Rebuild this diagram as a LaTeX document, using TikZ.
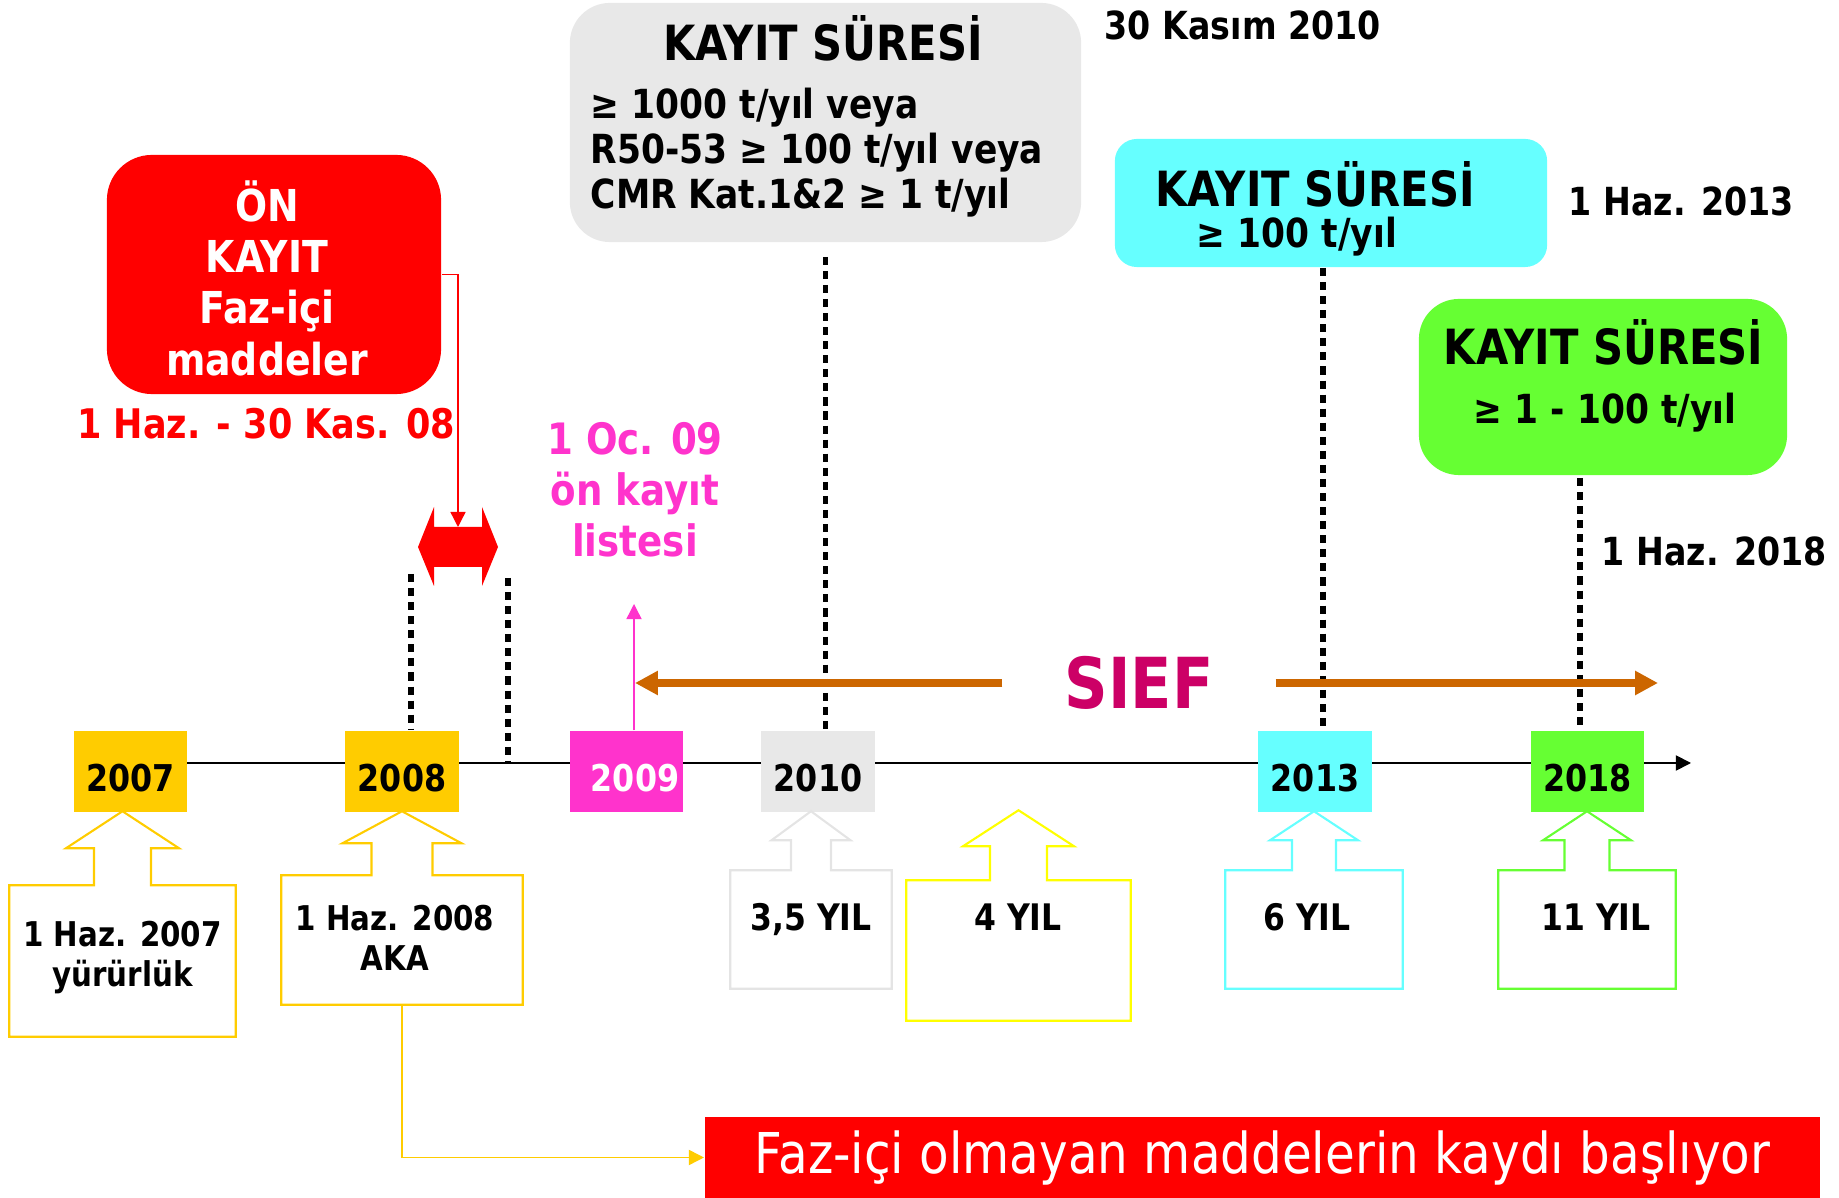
\documentclass[tikz,border=0pt]{standalone}
\usepackage{fontspec}
\setmainfont{DejaVu Sans}[FakeStretch=0.86]
\usetikzlibrary{arrows.meta,calc}
\definecolor{kGold}{HTML}{FFCC00}
\definecolor{kPink}{HTML}{FF33CC}
\definecolor{kGrey}{HTML}{E8E8E8}
\definecolor{kGreyLine}{HTML}{E4E4E4}
\definecolor{kCyan}{HTML}{66FFFF}
\definecolor{kGreen}{HTML}{66FF33}
\definecolor{kYellow}{HTML}{FFFF00}
\definecolor{kBrown}{HTML}{CC6600}
\definecolor{kSief}{HTML}{CC0066}
\newcommand\upcallout[6]{\draw [callline,draw=#2] (#1.north west) -- ($(#1.north)+(-#3,0)$) -- ++(0,-#5) -- ++(#3-#4,0) -- ++(#4,-#6) -- ++(#4,#6) -- ++(#3-#4,0) -- ++(0,#5) -- (#1.north east) |- (#1.south west) -- cycle;}
\tikzset{
  yearbox/.style={minimum width=1.13cm,minimum height=0.81cm,inner sep=0pt,text height=3.9mm,text depth=0pt,font=\fontsize{10.5}{12}\selectfont\bfseries},
  callbox/.style={inner sep=0pt},
  callline/.style={line width=0.6pt},
  calltext/.style={inner sep=0pt,font=\fontsize{9.7}{11.4}\selectfont\bfseries,align=center},
  yiltext/.style={inner sep=0pt,font=\fontsize{10.4}{12}\selectfont\bfseries},
  roundbox/.style={inner sep=0pt,draw=none},
  titletext/.style={inner sep=0pt,font=\fontsize{13.8}{15}\selectfont\bfseries},
  bodytext/.style={inner sep=0pt,font=\fontsize{11.4}{13}\selectfont\bfseries},
  datetext/.style={inner sep=0pt,font=\fontsize{11}{13}\selectfont\bfseries},
  dotline/.style={line width=1.7pt,dash pattern=on 2.3pt off 1.7pt},
  brownarr/.style={draw=kBrown,line width=2.2pt,-{Triangle[length=6.5pt,width=6.5pt]}},
  thinarr/.style={line width=0.45pt,-{Triangle[length=4.3pt,width=4.3pt]}}
}
\begin{document}
\begin{tikzpicture}[line join=miter,x=0.01cm,y=-0.01cm]
\useasboundingbox (0,0) rectangle (1839,1198);
\coordinate (axL) at (74,763);
\coordinate (axR) at (1691,763);
\draw [thinarr,line width=0.5pt] (axL) -- (axR);
% kayit sureleri
\node [roundbox,fill=kGrey,rounded corners=4mm,minimum width=5.11cm,minimum height=2.39cm] (grey) at (825.5,122.5) {};
\node [titletext,anchor=base] (greytitle) at (823,61) {KAYIT SÜRESİ};
\node [bodytext,anchor=base west] (greyl1) at (590,119) {≥ 1000 t/yıl veya};
\node [bodytext,anchor=base west] (greyl2) at (590,164) {R50-53 ≥ 100 t/yıl veya};
\node [bodytext,anchor=base west] (greyl3) at (590,209) {CMR Kat.1\&2 ≥ 1 t/yıl};
\node [roundbox,fill=kCyan,rounded corners=2.2mm,minimum width=4.32cm,minimum height=1.28cm] (cyanbox) at (1331,203) {};
\node [titletext,anchor=base] (cyantitle) at (1315,207) {KAYIT SÜRESİ};
\node [bodytext,anchor=base] (cyanl1) at (1297,248) {≥ 100 t/yıl};
\node [roundbox,fill=kGreen,rounded corners=4mm,minimum width=3.68cm,minimum height=1.76cm] (greenbox) at (1603,387) {};
\node [titletext,anchor=base] (greentitle) at (1603.5,365) {KAYIT SÜRESİ};
\node [bodytext,anchor=base] (greenl1) at (1605,424) {≥ 1 - 100 t/yıl};
\node [datetext,anchor=base west] (kasim10) at (1104,40) {30 Kasım 2010};
\node [datetext,anchor=base west] (haz13) at (1568,216) {1 Haz. 2013};
\node [datetext,anchor=base west] (haz18) at (1601,566) {1 Haz. 2018};
% on kayit
\node [roundbox,fill=red,rounded corners=4.5mm,minimum width=3.34cm,minimum height=2.39cm] (onkayit) at (274,274.5) {};
\node [inner sep=0pt,text=white,align=center,font=\fontsize{12.5}{14.6}\selectfont\bfseries] (onkayittext) at (267,278) {ÖN\\KAYIT\\Faz-içi\\maddeler};
\node [inner sep=0pt,text=red,font=\fontsize{11.6}{13}\selectfont\bfseries,anchor=base] (ondate) at (266,439) {1 Haz. - 30 Kas. 08};
\fill [red] (418,547) -- (434,507) -- (434,527) -- (482,527) -- (482,507) -- (498,547) -- (482,586) -- (482,567) -- (434,567) -- (434,586) -- cycle;
\coordinate (dblin) at (458,527);
\draw [thinarr,draw=red,line width=0.4pt] (onkayit.east) -| (dblin);
\node [inner sep=0pt,text=kPink,align=center,font=\fontsize{12.3}{14.5}\selectfont\bfseries] (oc09) at (635,489.5) {1 Oc. 09\\ön kayıt\\listesi};
% yillar
\node [yearbox,fill=kGold] (y07) at (130.5,771.5) {2007};
\node [yearbox,fill=kGold] (y08) at (402,771.5) {2008};
\node [yearbox,fill=kPink,text=white] (y09) at (626.5,771.5) {\hspace*{1.7mm}2009};
\node [yearbox,fill=kGrey] (y10) at (818,771.5) {2010};
\node [yearbox,fill=kCyan] (y13) at (1315,771.5) {2013};
\node [yearbox,fill=kGreen] (y18) at (1587.5,771.5) {2018};
\coordinate (d08) at (411,574);
\coordinate (d08b) at (508,578);
\coordinate (d13) at (1323,268);
\coordinate (d18) at (1580,478);
\draw [dotline] (d08) -- (d08 |- y08.north);
\draw [dotline] (d08b) -- (d08b |- axL);
\draw [dotline] ($(grey.south)+(0,14)$) -- (grey.south |- y10.north);
\draw [dotline] (d13) -- (d13 |- y13.north);
\draw [dotline] (d18) -- (d18 |- y18.north);
\coordinate (listtip) at (634,604);
\draw [thinarr,draw=kPink,line width=0.4pt] (y09.north -| listtip) -- (listtip);
% SIEF
\node [inner sep=0pt,inner xsep=6.15mm,text=kSief,font=\fontsize{20}{24}\selectfont\bfseries] (sief) at (1139,683) {SIEF};
\coordinate (siefL) at (635,683);
\coordinate (siefR) at (1658,683);
\draw [brownarr] (sief.west) -- (siefL);
\draw [brownarr] (sief.east) -- (siefR);
% sureler
\node [callbox,minimum width=2.25cm,minimum height=1.5cm] (c07) at (122.5,961) {};
\node [callbox,minimum width=2.4cm,minimum height=1.28cm] (c08) at (402,940) {};
\node [callbox,minimum width=1.6cm,minimum height=1.17cm] (c10) at (811,929.5) {};
\node [callbox,minimum width=2.23cm,minimum height=1.39cm] (c4y) at (1018.5,950.5) {};
\node [callbox,minimum width=1.76cm,minimum height=1.17cm] (c13) at (1314,929.5) {};
\node [callbox,minimum width=1.76cm,minimum height=1.17cm] (c18) at (1587,929.5) {};
\upcallout{c07}{kGold}{28.5}{56.5}{37}{37}
\upcallout{c08}{kGold}{30.5}{59.5}{32}{32}
\upcallout{c10}{kGreyLine}{20}{39.5}{30}{29}
\upcallout{c4y}{kYellow}{28.5}{55.5}{34}{36}
\upcallout{c13}{kCyan}{22}{44}{30}{29}
\upcallout{c18}{kGreen}{22.5}{44}{30}{29}
\node [calltext] (t07) at (122.5,957.5) {1 Haz. 2007\\yürürlük};
\node [calltext] (t08) at (395,937.5) {1 Haz. 2008\\AKA};
\node [yiltext,anchor=base] (t10) at (811,931) {3,5 YIL};
\node [yiltext,anchor=base] (t4y) at (1018,931) {4 YIL};
\node [yiltext,anchor=base] (t13) at (1307,931) {6 YIL};
\node [yiltext,anchor=base] (t18) at (1596,931) {11 YIL};
\node [roundbox,fill=red,text=white,minimum width=11.15cm,minimum height=0.81cm,font=\fontsize{16}{18}\selectfont] (bottom) at (1262.5,1157.5) {Faz-içi olmayan maddelerin kaydı başlıyor};
\draw [thinarr,draw=kGold] (c08.south) |- (bottom.west);
\end{tikzpicture}
\end{document}
